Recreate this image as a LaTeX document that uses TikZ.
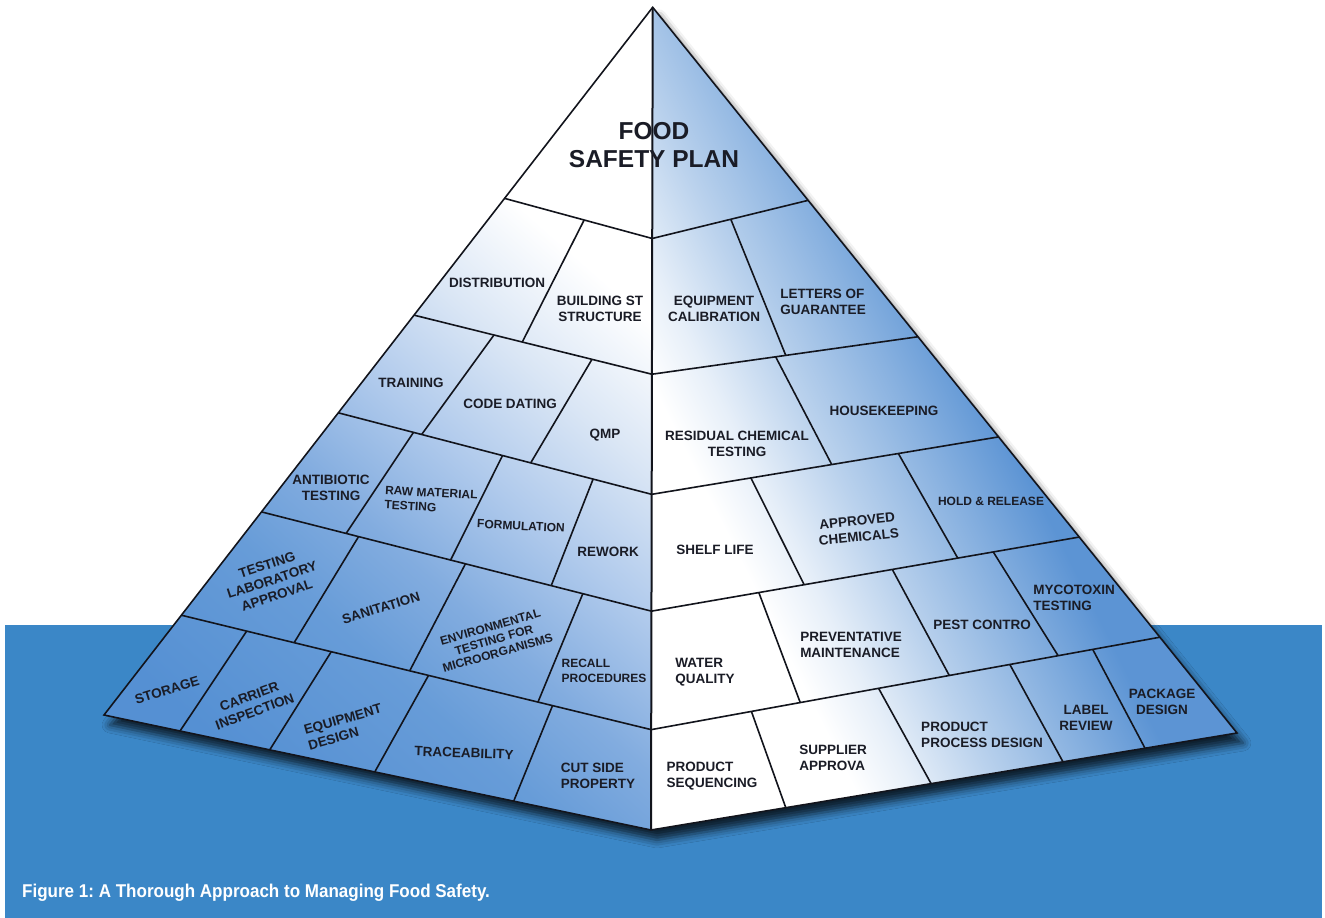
\documentclass[tikz,border=0pt]{standalone}
\usepackage{fontspec}
\usepackage{graphicx}
\usetikzlibrary{calc,shadows.blur}
\newfontfamily\pyrfont{Liberation Sans}

\definecolor{seablue}{RGB}{59,135,199}
\definecolor{inkline}{RGB}{18,20,28}
\definecolor{inktext}{RGB}{26,28,38}
\definecolor{lfA}{RGB}{218,230,245}
\definecolor{lfB}{RGB}{176,202,236}
\definecolor{lfC}{RGB}{130,172,223}
\definecolor{lfD}{RGB}{103,156,216}
\definecolor{lfE}{RGB}{85,144,211}
\definecolor{rfblue}{RGB}{92,148,212}
\colorlet{rfA}{rfblue!15!white}
\colorlet{rfB}{rfblue!42!white}
\colorlet{rfC}{rfblue!72!white}

\pgfdeclareverticalshading{leftgrad}{100bp}{color(0bp)=(white); color(38.5bp)=(white); color(44.7bp)=(lfA); color(50.8bp)=(lfB); color(57bp)=(lfC); color(62.3bp)=(lfD); color(71.3bp)=(lfE); color(100bp)=(lfE)}
\pgfdeclareverticalshading{rightgrad}{100bp}{color(0bp)=(white); color(42.9bp)=(white); color(47.4bp)=(rfA); color(53.4bp)=(rfB); color(60.8bp)=(rfC); color(67.5bp)=(rfblue); color(100bp)=(rfblue)}

\tikzset{
  gridline/.style={line width=1.6pt, draw=inkline, line join=miter},
  lbl/.style={font=\pyrfont\bfseries\fontsize{13.5}{16}\selectfont, text=inktext, align=center, inner sep=0pt},
  lblsmall/.style={lbl, font=\pyrfont\bfseries\fontsize{12}{14.5}\selectfont},
}

\begin{document}
\begin{tikzpicture}[x=1pt, y=-1pt]
  %%%%% START %%%%%
  \useasboundingbox (0,0) rectangle (1325,918);

  \fill[seablue] (5,625) rectangle (1322,918);

  \coordinate (apex) at (652.7,7.3);
  \coordinate (baseL) at (104,715);
  \coordinate (front) at (651,830);
  \coordinate (baseR) at (1237,733);

  % row boundaries on the three edges
  \foreach \n/\tl/\tc/\tr in {1/0.27/0.281/0.266, 2/0.435/0.446/0.454, 3/0.573/0.592/0.592, 4/0.713/0.734/0.730, 5/0.859/0.878/0.868} {
    \coordinate (l\n) at ($(apex)!\tl!(baseL)$);
    \coordinate (c\n) at ($(apex)!\tc!(front)$);
    \coordinate (r\n) at ($(apex)!\tr!(baseR)$);
  }
  \coordinate (l6) at (baseL);
  \coordinate (c6) at (front);
  \coordinate (r6) at (baseR);

  % body with its shadow
  \fill[white, blur shadow={shadow xshift=6pt, shadow yshift=-10pt, shadow blur radius=8pt, shadow opacity=75}] (apex) -- (baseL) -- (front) -- (baseR) -- cycle;

  % left face
  \begin{scope}
    \clip (apex) -- (baseL) -- (front) -- cycle;
    \begin{scope}[transform canvas={rotate around={138.6:(380,364)}}]
      \shade[shading=leftgrad] (-520,-94) rectangle (1280,822);
    \end{scope}
  \end{scope}

  % right face
  \begin{scope}
    \clip (apex) -- (front) -- (baseR) -- cycle;
    \begin{scope}[transform canvas={rotate around={-63.4:(780,450)}}]
      \shade[shading=rightgrad] (-120,150) rectangle (1680,750);
    \end{scope}
  \end{scope}

  % rows
  \foreach \n in {1,...,5}
    \draw[gridline] (l\n) -- (c\n) -- (r\n);

  % cells, left face
  \foreach \a/\b/\u/\v in {1/2/0.539/0.455, 2/3/0.336/0.266, 2/3/0.748/0.614,
      3/4/0.24/0.217, 3/4/0.524/0.485, 3/4/0.813/0.743,
      4/5/0.249/0.24, 4/5/0.523/0.486, 4/5/0.824/0.759,
      5/6/0.139/0.139, 5/6/0.319/0.303, 5/6/0.526/0.495, 5/6/0.79/0.749}
    \draw[gridline] ($(l\a)!\u!(c\a)$) -- ($(l\b)!\v!(c\b)$);

  % cells, right face
  \foreach \a/\b/\u/\v in {1/2/0.504/0.503, 2/3/0.465/0.519,
      3/4/0.286/0.357, 3/4/0.711/0.716,
      4/5/0.251/0.293, 4/5/0.563/0.586, 4/5/0.799/0.8,
      5/6/0.197/0.23, 5/6/0.447/0.478, 5/6/0.705/0.703, 5/6/0.868/0.843}
    \draw[gridline] ($(c\a)!\u!(r\a)$) -- ($(c\b)!\v!(r\b)$);

  \draw[gridline] (apex) -- (baseL) -- (front) -- (baseR) -- cycle;
  \draw[gridline, line width=2pt] (apex) -- (front);

  % top
  \node[lbl, font=\pyrfont\bfseries\fontsize{24.5}{28}\selectfont] (foodsafety) at (654,145) {FOOD\\SAFETY PLAN};

  % left face labels
  \node[lbl] (distribution) at (497,283) {DISTRIBUTION};
  \node[lbl] (building) at (600,309) {BUILDING ST\\STRUCTURE};
  \node[lbl] (training) at (411,383) {TRAINING};
  \node[lbl] (codedating) at (510,404) {CODE DATING};
  \node[lbl] (qmp) at (605,435) {QMP};
  \node[lbl] (antibiotic) at (331,488) {ANTIBIOTIC\\TESTING};
  \node[lblsmall, align=left, rotate=-3] (rawmaterial) at (431,500) {RAW MATERIAL\\TESTING};
  \node[lblsmall, rotate=-3] (formulation) at (521,526) {FORMULATION};
  \node[lbl] (rework) at (608,552) {REWORK};
  \node[lbl, rotate=18] (testinglab) at (272,580) {TESTING\\LABORATORY\\APPROVAL};
  \node[lbl, rotate=17] (sanitation) at (381,608) {SANITATION};
  \node[lbl, font=\pyrfont\bfseries\fontsize{12}{13.5}\selectfont, rotate=16] (environmental) at (494,640) {ENVIRONMENTAL\\TESTING FOR\\MICROORGANISMS};
  \node[lblsmall, align=left] (recall) at (604,671) {RECALL\\PROCEDURES};
  \node[lbl, rotate=17] (storage) at (167,690) {STORAGE};
  \node[lbl, rotate=20] (carrier) at (252,704) {CARRIER\\INSPECTION};
  \node[lbl, align=left, rotate=16] (equipdesign) at (345,727) {EQUIPMENT\\DESIGN};
  \node[lbl, rotate=-2] (traceability) at (464,753) {TRACEABILITY};
  \node[lbl, align=left] (cutside) at (598,776) {CUT SIDE\\PROPERTY};

  % right face labels
  \node[lbl] (equipcal) at (714,309) {EQUIPMENT\\CALIBRATION};
  \node[lbl, align=left] (letters) at (823,302) {LETTERS OF\\GUARANTEE};
  \node[lbl] (residual) at (737,444) {RESIDUAL CHEMICAL\\TESTING};
  \node[lbl] (housekeeping) at (884,411) {HOUSEKEEPING};
  \node[lbl] (shelflife) at (715,550) {SHELF LIFE};
  \node[lbl, rotate=6] (approved) at (858,529) {APPROVED\\CHEMICALS};
  \node[lblsmall] (holdrelease) at (991,501) {HOLD \& RELEASE};
  \node[lbl, align=left] (water) at (705,672) {WATER\\QUALITY};
  \node[lbl, align=left] (preventative) at (851,645) {PREVENTATIVE\\MAINTENANCE};
  \node[lbl] (pest) at (982,625) {PEST CONTRO};
  \node[lbl, align=left] (mycotoxin) at (1074,598) {MYCOTOXIN\\TESTING};
  \node[lbl, align=left] (prodseq) at (712,776) {PRODUCT\\SEQUENCING};
  \node[lbl, align=left] (supplier) at (833,758) {SUPPLIER\\APPROVA};
  \node[lbl, align=left] (prodprocess) at (982,735) {PRODUCT\\PROCESS DESIGN};
  \node[lbl] (labelrev) at (1086,718) {LABEL\\REVIEW};
  \node[lbl] (package) at (1162,702) {PACKAGE\\DESIGN};

  \node[anchor=west, inner sep=0pt, text=white, font=\pyrfont\bfseries\fontsize{18.5}{20}\selectfont] (caption) at (22,893) {\frenchspacing\scalebox{0.92}[1]{Figure 1: A Thorough Approach to Managing Food Safety.}};
  %%%%% END %%%%%
\end{tikzpicture}
\end{document}
